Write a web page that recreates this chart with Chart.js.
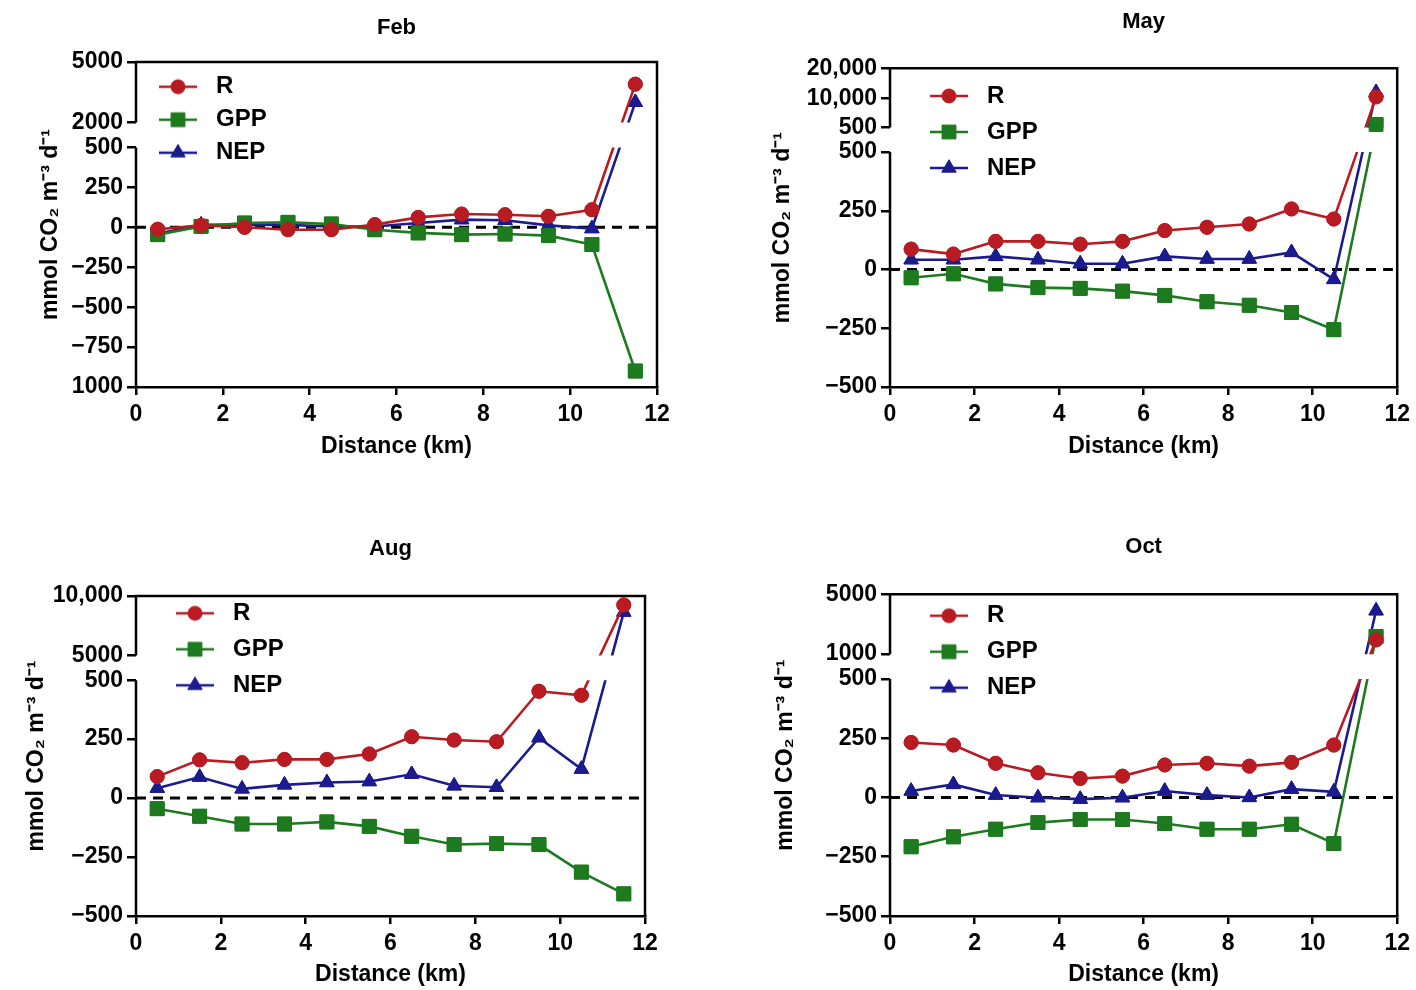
<!DOCTYPE html>
<html><head><meta charset="utf-8">
<script src="https://cdn.jsdelivr.net/npm/chart.js@4.4.1/dist/chart.umd.min.js"></script>
<style>
html,body{margin:0;padding:0;background:#fff;width:1416px;height:990px;overflow:hidden}
canvas{position:absolute}
</style></head><body>
<canvas id="feb" width="708" height="495" style="left:0;top:0"></canvas>
<canvas id="may" width="708" height="495" style="left:708px;top:0"></canvas>
<canvas id="aug" width="708" height="495" style="left:0;top:495px"></canvas>
<canvas id="oct" width="708" height="495" style="left:708px;top:495px"></canvas>
<script>
// ---------------- DATA ----------------
const distanceKm = [0.5, 1.5, 2.5, 3.5, 4.5, 5.5, 6.5, 7.5, 8.5, 9.5, 10.5, 11.5];
const zeroLineX = [0, 12];
const xTickStep = 2;

const febR   = [-12, 12, 0, -15, -15, 17, 62, 83, 79, 69, 110, 3900];
const febGPP = [-46, 6, 27, 31, 21, -15, -35, -46, -42, -52, -108, -900];
const febNEP = [-40, 15, 17, 15, 5, 5, 27, 48, 44, 12, -8, 3000];

const mayR   = [87, 66, 120, 120, 108, 120, 166, 180, 194, 258, 215, 10600];
const mayGPP = [-35, -18, -61, -77, -80, -92, -110, -137, -152, -183, -256, 1500];
const mayNEP = [42, 42, 56, 42, 25, 25, 56, 45, 45, 73, -42, 12100];

const augR   = [91, 162, 150, 164, 164, 187, 260, 246, 239, 453, 436, 9250];
const augGPP = [-45, -77, -110, -110, -101, -120, -162, -197, -193, -197, -314, -406];
const augNEP = [42, 89, 39, 56, 66, 70, 101, 52, 46, 256, 123, 8650];

const octR   = [232, 221, 144, 104, 80, 90, 137, 144, 132, 148, 221, 1950];
const octGPP = [-208, -166, -134, -106, -93, -93, -110, -134, -134, -113, -194, 2180];
const octNEP = [27, 55, 10, -1, -7, -1, 27, 10, 0, 35, 24, 3900];

const febLowTicks  = [-1000, -750, -500, -250, 0, 250, 500];
const febHighTicks = [2000, 5000];
const febLowLabels  = ['1000', '\u2212750', '\u2212500', '\u2212250', '0', '250', '500'];
const febHighLabels = ['2000', '5000'];

const mayLowTicks  = [-500, -250, 0, 250, 500];
const mayHighTicks = [500, 10000, 20000];
const mayLowLabels  = ['\u2212500', '\u2212250', '0', '250', '500'];
const mayHighLabels = ['500', '10,000', '20,000'];

const augLowTicks  = [-500, -250, 0, 250, 500];
const augHighTicks = [5000, 10000];
const augLowLabels  = ['\u2212500', '\u2212250', '0', '250', '500'];
const augHighLabels = ['5000', '10,000'];

const octLowTicks  = [-500, -250, 0, 250, 500];
const octHighTicks = [1000, 5000];
const octLowLabels  = ['\u2212500', '\u2212250', '0', '250', '500'];
const octHighLabels = ['1000', '5000'];

const seriesNames = ['R', 'GPP', 'NEP'];
const xTitle = 'Distance (km)';
const yTitle = 'mmol CO\u2082 m\u207B\u00B3 d\u207B\u00B9';

// ---------------- STYLE / LAYOUT ----------------
const SERIES_STYLE = {
  R:   {color: '#B81C22', pointStyle: 'circle',   radius: 7},
  GPP: {color: '#1D7A1E', pointStyle: 'rect',     radius: 9.8},
  NEP: {color: '#1B1B8F', pointStyle: 'triangle', radius: 8.3}
};

const PANELS = [
  {id: 'feb', title: 'Feb', series: {R: febR, GPP: febGPP, NEP: febNEP},
   low: febLowTicks, high: febHighTicks, lowLab: febLowLabels, highLab: febHighLabels,
   caLeft: 136, padRight: 51, padBottom: 18, xH: 90, xTitlePad: 17,
   titleTop: 14.8, titleBottom: 20.8, yTitlePad: 37, legPad: 9, legDx: 7, legDy: 3.7},
  {id: 'may', title: 'May', series: {R: mayR, GPP: mayGPP, NEP: mayNEP},
   low: mayLowTicks, high: mayHighTicks, lowLab: mayLowLabels, highLab: mayHighLabels,
   caLeft: 182, padRight: 16, padBottom: 18, xH: 90, xTitlePad: 17,
   titleTop: 8.8, titleBottom: 33.1, yTitlePad: 61, legPad: 12, legDx: 21, legDy: 3.7},
  {id: 'aug', title: 'Aug', series: {R: augR, GPP: augGPP, NEP: augNEP},
   low: augLowTicks, high: augHighTicks, lowLab: augLowLabels, highLab: augHighLabels,
   caLeft: 136, padRight: 63, padBottom: 2, xH: 72, xTitlePad: 0,
   titleTop: 40.8, titleBottom: 33.8, yTitlePad: 23, legPad: 12, legDx: 21, legDy: -6.7},
  {id: 'oct', title: 'Oct', series: {R: octR, GPP: octGPP, NEP: octNEP},
   low: octLowTicks, high: octHighTicks, lowLab: octLowLabels, highLab: octHighLabels,
   caLeft: 182, padRight: 12, padBottom: 2, xH: 72, xTitlePad: 0,
   titleTop: 38.8, titleBottom: 34.1, yTitlePad: 64, legPad: 12, legDx: 21, legDy: -2.6}
];
const HIGH_FRAC = 0.186, GAP_FRAC = 0.077;

Chart.defaults.font.family = '"Liberation Sans", Arial, Helvetica, sans-serif';
Chart.defaults.color = '#000';

const BRK = {};
PANELS.forEach(p => { BRK[p.id] = {low: p.low, high: p.high, highFrac: HIGH_FRAC, gapFrac: GAP_FRAC, panel: p}; });

// ---------------- BROKEN Y SCALE ----------------
class BrokenScale extends Chart.LinearScale {
  _cfg() { return BRK[this.chart.canvas.id]; }
  determineDataLimits() {
    const c = this._cfg();
    this.min = c.low[0];
    this.max = c.high[c.high.length - 1];
  }
  buildTicks() {
    const c = this._cfg();
    return c.low.map(v => ({value: v, upper: false})).concat(c.high.map(v => ({value: v, upper: true})));
  }
  _parts() {
    const c = this._cfg();
    const H = this.bottom - this.top;
    const hi = H * c.highFrac, gap = H * c.gapFrac;
    return {hi, gap, lo: H - hi - gap,
      lmin: c.low[0], lmax: c.low[c.low.length - 1], hmin: c.high[0], hmax: c.high[c.high.length - 1]};
  }
  lowPixel(v) { const p = this._parts(); return this.bottom - (v - p.lmin) / (p.lmax - p.lmin) * p.lo; }
  highPixel(v) { const p = this._parts(); return this.top + (p.hmax - v) / (p.hmax - p.hmin) * p.hi; }
  getPixelForValue(v) {
    const p = this._parts();
    if (v <= p.lmax) return this.lowPixel(v);
    if (v >= p.hmin) return this.highPixel(v);
    return this.bottom - p.lo - (v - p.lmax) / (p.hmin - p.lmax) * p.gap;
  }
  getPixelForTick(i) {
    const t = this.ticks[i];
    if (!t) return null;
    return t.upper ? this.highPixel(t.value) : this.lowPixel(t.value);
  }
  getValueForPixel(px) {
    const p = this._parts();
    const yLo = this.bottom - p.lo, yHi = this.top + p.hi;
    if (px >= yLo) return p.lmin + (this.bottom - px) / p.lo * (p.lmax - p.lmin);
    if (px <= yHi) return p.hmax - (px - this.top) / p.hi * (p.hmax - p.hmin);
    return p.lmax + (yLo - px) / p.gap * (p.hmin - p.lmax);
  }
}
BrokenScale.id = 'broken';
BrokenScale.defaults = {};
Chart.register(BrokenScale);

// ---------------- PLUGIN: frame, break clipping, legend placement ----------------
const brokenFrame = {
  id: 'brokenFrame',
  afterLayout(chart) {
    const lg = chart.legend, ca = chart.chartArea, P = BRK[chart.canvas.id].panel;
    if (!lg) return;
    lg.left = ca.left + P.legDx; lg.top = ca.top + P.legDy;
    lg.right = ca.right; lg.bottom = ca.bottom;
    lg.width = lg.right - lg.left; lg.height = lg.bottom - lg.top;
  },
  beforeDatasetsDraw(chart) {
    const {ctx, chartArea: ca} = chart;
    const y = chart.scales.y, c = BRK[chart.canvas.id];
    ctx.save();
    ctx.strokeStyle = '#000'; ctx.lineWidth = 2.5; ctx.lineJoin = 'miter';
    ctx.beginPath();
    ctx.moveTo(ca.left, ca.bottom);
    ctx.lineTo(ca.left, y.lowPixel(c.low[c.low.length - 1]));
    ctx.moveTo(ca.left, y.highPixel(c.high[0]));
    ctx.lineTo(ca.left, ca.top);
    ctx.lineTo(ca.right, ca.top);
    ctx.lineTo(ca.right, ca.bottom);
    ctx.stroke();
    ctx.restore();
  },
  beforeDatasetDraw(chart, args) {
    const ds = chart.data.datasets[args.index];
    if (!ds.gapClip) return;
    const {ctx, chartArea: ca} = chart;
    const y = chart.scales.y, c = BRK[chart.canvas.id];
    const yHi = y.highPixel(c.high[0]), yLo = y.lowPixel(c.low[c.low.length - 1]);
    ctx.save();
    ctx.beginPath();
    ctx.rect(ca.left - 10, ca.top - 20, ca.right - ca.left + 20, yHi - ca.top + 20);
    ctx.rect(ca.left - 10, yLo, ca.right - ca.left + 20, ca.bottom - yLo + 20);
    ctx.clip();
  },
  afterDatasetDraw(chart, args) {
    const ds = chart.data.datasets[args.index];
    if (!ds.gapClip) return;
    chart.ctx.restore();
    args.meta.data.forEach(pt => pt.draw(chart.ctx, chart.chartArea));
  }
};

function legendIcon(st) {
  const c = document.createElement('canvas');
  c.width = 38; c.height = 22;
  const g = c.getContext('2d');
  g.strokeStyle = st.color; g.lineWidth = 2.5;
  g.beginPath(); g.moveTo(0, 11); g.lineTo(38, 11); g.stroke();
  g.fillStyle = st.color; g.strokeStyle = st.color; g.lineWidth = 1;
  if (Chart.helpers && Chart.helpers.drawPoint) {
    Chart.helpers.drawPoint(g, {pointStyle: st.pointStyle, radius: st.radius, rotation: 0, borderWidth: 1}, 19, 11);
  } else {
    g.beginPath(); g.arc(19, 11, st.radius, 0, Math.PI * 2); g.fill();
  }
  return c;
}
const ICONS = {};
seriesNames.forEach(n => { ICONS[n] = legendIcon(SERIES_STYLE[n]); });

// ---------------- BUILD CHARTS ----------------
PANELS.forEach(P => {
  const allLabels = P.lowLab.concat(P.highLab);
  const datasets = seriesNames.map(n => {
    const st = SERIES_STYLE[n];
    return {
      label: n,
      data: distanceKm.map((x, i) => ({x: x, y: P.series[n][i]})),
      borderColor: st.color, backgroundColor: st.color, borderWidth: 2.6,
      pointStyle: st.pointStyle, pointRadius: st.radius,
      pointBackgroundColor: st.color, pointBorderColor: st.color, pointBorderWidth: 1,
      tension: 0, gapClip: true
    };
  });
  datasets.push({
    label: 'zero', data: zeroLineX.map(x => ({x: x, y: 0})),
    borderColor: '#000', borderWidth: 3, borderDash: [10, 7], pointRadius: 0, gapClip: false
  });

  new Chart(document.getElementById(P.id), {
    type: 'line',
    data: {datasets},
    plugins: [brokenFrame],
    options: {
      responsive: false, animation: false, events: [],
      layout: {padding: {left: 0, top: 0, right: P.padRight, bottom: P.padBottom}},
      scales: {
        x: {
          type: 'linear', min: zeroLineX[0], max: zeroLineX[1],
          afterFit: s => { s.height = P.xH; },
          border: {display: true, color: '#000', width: 2.5},
          grid: {drawOnChartArea: false, drawTicks: true, tickLength: 8, color: '#000', lineWidth: 2.5},
          ticks: {stepSize: xTickStep, padding: 6, color: '#000', font: {size: 23, weight: 'bold'}},
          title: {display: true, text: xTitle, color: '#000', font: {size: 23, weight: 'bold'},
                  padding: {top: 0, bottom: P.xTitlePad}}
        },
        y: {
          type: 'broken',
          afterFit: s => { s.width = P.caLeft; },
          border: {display: false},
          grid: {drawOnChartArea: false, drawTicks: true, tickLength: 9, color: '#000', lineWidth: 2.5},
          ticks: {autoSkip: false, padding: 4, color: '#000', font: {size: 23, weight: 'bold'},
                  callback: (v, i) => allLabels[i]},
          title: {display: true, text: yTitle, color: '#000', font: {size: 23, weight: 'bold'},
                  padding: {top: P.yTitlePad, bottom: 0}}
        }
      },
      plugins: {
        tooltip: {enabled: false},
        title: {display: true, text: P.title, fullSize: false, color: '#000',
                font: {size: 22, weight: 'bold'}, padding: {top: P.titleTop, bottom: P.titleBottom}},
        legend: {
          display: true, position: 'chartArea', align: 'start',
          labels: {
            usePointStyle: true, pointStyleWidth: 52, padding: P.legPad, color: '#000',
            font: {size: 24, weight: 'bold'},
            generateLabels: () => seriesNames.map((n, i) => ({
              text: n, pointStyle: ICONS[n], fillStyle: SERIES_STYLE[n].color,
              strokeStyle: SERIES_STYLE[n].color, lineWidth: 0, hidden: false,
              datasetIndex: i, fontColor: '#000'
            }))
          }
        }
      }
    }
  });
});
</script>
</body></html>
